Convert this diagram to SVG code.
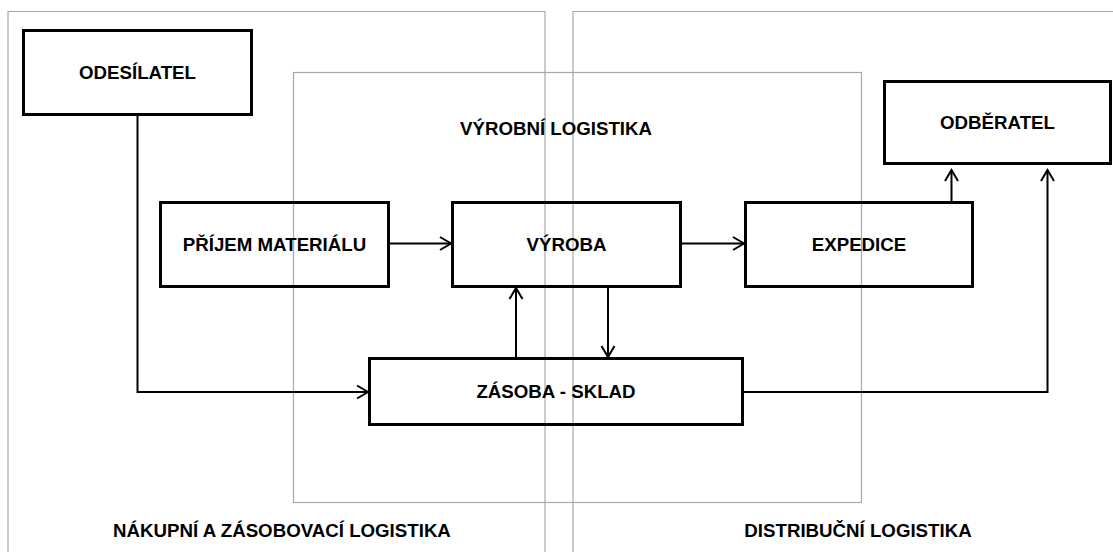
<svg xmlns="http://www.w3.org/2000/svg" width="1113" height="552" viewBox="0 0 1113 552">
<style>
.frame{fill:none;stroke:#a9a9a9;stroke-width:1.2}
.box{fill:none;stroke:#000;stroke-width:3}
.lbl{font-family:"Liberation Sans",Arial,sans-serif;font-weight:bold;font-size:18.7px;fill:#000;text-anchor:middle}
.conn{fill:none;stroke:#000;stroke-width:2}
</style>
<rect width="1113" height="552" fill="#fff"/>
<g id="frames">
<path class="frame" d="M8,560 V11.5 H545 V560"/>
<path class="frame" d="M573,560 V11.5 H1120"/>
<rect class="frame" x="293.5" y="72.5" width="568" height="430"/>
</g>
<g id="region-labels">
<text class="lbl" x="556" y="135">VÝROBNÍ LOGISTIKA</text>
<text class="lbl" x="282" y="537">NÁKUPNÍ A ZÁSOBOVACÍ LOGISTIKA</text>
<text class="lbl" x="858" y="537">DISTRIBUČNÍ LOGISTIKA</text>
</g>
<g id="odesilatel">
<rect class="box" x="23.5" y="30.5" width="228" height="84"/>
<text class="lbl" x="137.5" y="79">ODESÍLATEL</text>
</g>
<g id="odberatel">
<rect class="box" x="884.5" y="81.5" width="226" height="82"/>
<text class="lbl" x="997.5" y="129">ODBĚRATEL</text>
</g>
<g id="prijem">
<rect class="box" x="160.5" y="202.5" width="228" height="84"/>
<text class="lbl" x="274.5" y="251">PŘÍJEM MATERIÁLU</text>
</g>
<g id="vyroba">
<rect class="box" x="452.5" y="202.5" width="228" height="84"/>
<text class="lbl" x="566.5" y="251">VÝROBA</text>
</g>
<g id="expedice">
<rect class="box" x="745.5" y="202.5" width="227" height="84"/>
<text class="lbl" x="859" y="251">EXPEDICE</text>
</g>
<g id="zasoba">
<rect class="box" x="369.5" y="358.5" width="373" height="66"/>
<text class="lbl" x="556" y="398">ZÁSOBA - SKLAD</text>
</g>
<g id="connectors">
<path class="conn" d="M389,243.5 H451"/>
<path class="conn" d="M440,237 L451,243.5 L440,250"/>
<path class="conn" d="M682,243.5 H744"/>
<path class="conn" d="M733,237 L744,243.5 L733,250"/>
<path class="conn" d="M951.5,201 V170"/>
<path class="conn" d="M945,181 L951.5,170 L958,181"/>
<path class="conn" d="M743,392 H1047.5 V170"/>
<path class="conn" d="M1041,181 L1047.5,170 L1054,181"/>
<path class="conn" d="M137.5,116 V392 H368"/>
<path class="conn" d="M357,385.5 L368,392 L357,398.5"/>
<path class="conn" d="M516,357 V288"/>
<path class="conn" d="M509.5,299 L516,288 L522.5,299"/>
<path class="conn" d="M608,288 V357"/>
<path class="conn" d="M601.5,346 L608,357 L614.5,346"/>
</g>
</svg>
